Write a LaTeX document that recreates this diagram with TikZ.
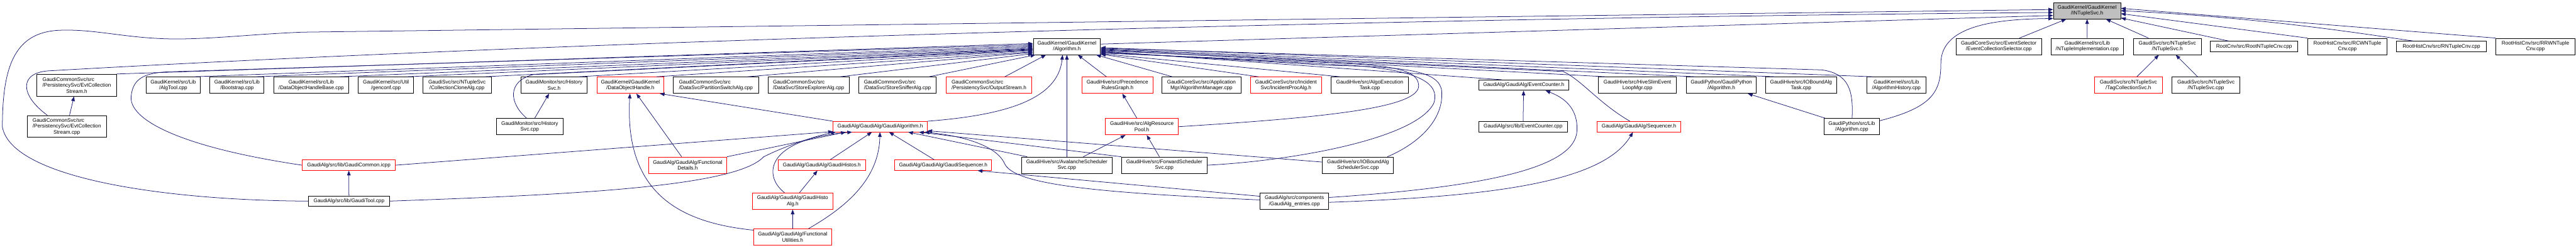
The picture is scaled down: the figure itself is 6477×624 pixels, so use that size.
\documentclass[tikz,border=0pt]{standalone}
\usepackage{fontspec}
\setmainfont{Liberation Sans}
\usepackage{tikz}
\usetikzlibrary{arrows.meta}
\definecolor{cEdge}{HTML}{191970}
\definecolor{cTrunc}{HTML}{FF0000}
\definecolor{cFocus}{HTML}{BFBFBF}
\definecolor{cInk}{HTML}{000000}
\newcommand{\fileFont}{\fontsize{13}{15}\selectfont}
\newcommand{\padl}[2]{\rlap{#1}\phantom{#2}}
\tikzset{
  file/.style  = {draw=cInk, fill=white, align=center, line width=1.4pt,
                  inner xsep=6pt, inner ysep=1pt, font=\fileFont},
  src1/.style  = {file, minimum height=26pt},
  src2/.style  = {file, minimum height=41pt},
  src3/.style  = {file, minimum height=55pt},
  trunc/.style = {draw=cTrunc},
  focus/.style = {fill=cFocus},
  incl/.style  = {-{Triangle[length=12pt,width=9pt]}, draw=cEdge, line width=1.2pt},
}

\begin{document}
\begin{tikzpicture}[x=1pt, y=-1pt]
  \useasboundingbox[fill=white] (0,0) rectangle (6477,624);
  % the header itself
  \node[src2, focus, minimum width=169pt] (nt) at (5247.5,27)
    {GaudiKernel/GaudiKernel\\/INTupleSvc.h};
  % second row
  \node[src2, minimum width=169pt] (alg) at (2682.5,117)
    {GaudiKernel/GaudiKernel\\/Algorithm.h};
  \node[src2, minimum width=215pt] (ecsel) at (5025.5,117)
    {GaudiCoreSvc/src/EventSelector\\/EventCollectionSelector.cpp};
  \node[src2, minimum width=182pt] (ntimpl) at (5248,117)
    {GaudiKernel/src/Lib\\/NTupleImplementation.cpp};
  \node[src2, minimum width=171pt] (ntsvch) at (5449.5,117)
    {GaudiSvc/src/NTupleSvc\\/NTupleSvc.h};
  \node[src1, minimum width=219pt] (rootnt) at (5667.5,117)
    {RootCnv/src/RootNTupleCnv.cpp};
  \node[src2, minimum width=200pt] (rcwn) at (5902,117)
    {RootHistCnv/src/RCWNTuple\\Cnv.cpp};
  \node[src1, minimum width=227pt] (rnt) at (6138.5,117)
    {RootHistCnv/src/RNTupleCnv.cpp};
  \node[src2, minimum width=200pt] (rrwn) at (6375,117)
    {RootHistCnv/src/RRWNTuple\\Cnv.cpp};
  % third row
  \node[src3, minimum width=200pt] (ecsh) at (193,214.5)
    {\padl{GaudiCommonSvc/src}{/PersistencySvc/EvtCollection}\\/PersistencySvc/EvtCollection\\Stream.h};
  \node[src2, minimum width=137pt] (algtool) at (435.5,214.5)
    {GaudiKernel/src/Lib\\/AlgTool.cpp};
  \node[src2, minimum width=136pt] (boot) at (596,214.5)
    {GaudiKernel/src/Lib\\/Bootstrap.cpp};
  \node[src2, minimum width=189pt] (dohbase) at (782.5,214.5)
    {GaudiKernel/src/Lib\\/DataObjectHandleBase.cpp};
  \node[src2, minimum width=139pt] (genconf) at (970.5,214.5)
    {GaudiKernel/src/Util\\/genconf.cpp};
  \node[src2, minimum width=172pt] (cclone) at (1149,214.5)
    {GaudiSvc/src/NTupleSvc\\/CollectionCloneAlg.cpp};
  \node[src2, minimum width=166pt] (histh) at (1393,214.5)
    {GaudiMonitor/src/History\\Svc.h};
  \node[src2, trunc, minimum width=168pt] (doh) at (1585,214.5)
    {GaudiKernel/GaudiKernel\\/DataObjectHandle.h};
  \node[src2, minimum width=214pt] (pswitch) at (1800,214.5)
    {\padl{GaudiCommonSvc/src}{/DataSvc/PartitionSwitchAlg.cpp}\\/DataSvc/PartitionSwitchAlg.cpp};
  \node[src2, minimum width=204pt] (sexpl) at (2033,214.5)
    {\padl{GaudiCommonSvc/src}{/DataSvc/StoreExplorerAlg.cpp}\\/DataSvc/StoreExplorerAlg.cpp};
  \node[src2, minimum width=195pt] (ssniff) at (2256.5,214.5)
    {\padl{GaudiCommonSvc/src}{/DataSvc/StoreSnifferAlg.cpp}\\/DataSvc/StoreSnifferAlg.cpp};
  \node[src2, trunc, minimum width=215pt] (ostream) at (2486.5,214.5)
    {\padl{GaudiCommonSvc/src}{/PersistencySvc/OutputStream.h}\\/PersistencySvc/OutputStream.h};
  \node[src2, trunc, minimum width=179pt] (prg) at (2809.5,214.5)
    {GaudiHive/src/Precedence\\RulesGraph.h};
  \node[src2, minimum width=198pt] (algmgr) at (3021,214.5)
    {GaudiCoreSvc/src/Application\\Mgr/AlgorithmManager.cpp};
  \node[src2, trunc, minimum width=179pt] (incproc) at (3233.5,214.5)
    {GaudiCoreSvc/src/Incident\\Svc/IncidentProcAlg.h};
  \node[src2, minimum width=194pt] (aet) at (3444,214.5)
    {GaudiHive/src/AlgoExecution\\Task.cpp};
  \node[src1, minimum width=226pt] (ecnth) at (3831,214.5)
    {GaudiAlg/GaudiAlg/EventCounter.h};
  \node[src2, minimum width=196pt] (hslim) at (4117,214.5)
    {GaudiHive/src/HiveSlimEvent\\LoopMgr.cpp};
  \node[src2, minimum width=176pt] (gpyalgh) at (4328,214.5)
    {GaudiPython/GaudiPython\\/Algorithm.h};
  \node[src2, minimum width=179pt] (iobtask) at (4528.5,214.5)
    {GaudiHive/src/IOBoundAlg\\Task.cpp};
  \node[src2, minimum width=148pt] (alghist) at (4768,214.5)
    {GaudiKernel/src/Lib\\/AlgorithmHistory.cpp};
  \node[src2, trunc, minimum width=171pt] (tagcoll) at (5351.5,214.5)
    {GaudiSvc/src/NTupleSvc\\/TagCollectionSvc.h};
  \node[src2, minimum width=171pt] (ntsvccpp) at (5546.5,214.5)
    {GaudiSvc/src/NTupleSvc\\/NTupleSvc.cpp};
  % fourth row
  \node[src3, minimum width=200pt] (ecscpp) at (168,318.5)
    {\padl{GaudiCommonSvc/src}{/PersistencySvc/EvtCollection}\\/PersistencySvc/EvtCollection\\Stream.cpp};
  \node[src2, minimum width=168pt] (histcpp) at (1332,319)
    {GaudiMonitor/src/History\\Svc.cpp};
  \node[src1, trunc, minimum width=236pt] (galg) at (2213,319)
    {GaudiAlg/GaudiAlg/GaudiAlgorithm.h};
  \node[src2, trunc, minimum width=184pt] (arp) at (2871,319)
    {GaudiHive/src/AlgResource\\Pool.h};
  \node[src1, minimum width=223pt] (ecntcpp) at (3829.5,319)
    {GaudiAlg/src/lib/EventCounter.cpp};
  \node[src1, trunc, minimum width=210pt] (seqh) at (4121,319)
    {GaudiAlg/GaudiAlg/Sequencer.h};
  \node[src2, minimum width=140pt] (gpyalgcpp) at (4656,319)
    {GaudiPython/src/Lib\\/Algorithm.cpp};
  % fifth row
  \node[src1, trunc, minimum width=234pt] (gcommon) at (877,416)
    {GaudiAlg/src/lib/GaudiCommon.icpp};
  \node[src2, trunc, minimum width=196pt] (fdet) at (1729,416)
    {GaudiAlg/GaudiAlg/Functional\\Details.h};
  \node[src1, trunc, minimum width=219pt] (ghistos) at (2066.5,416)
    {GaudiAlg/GaudiAlg/GaudiHistos.h};
  \node[src1, trunc, minimum width=243pt] (gseq) at (2371.5,416)
    {GaudiAlg/GaudiAlg/GaudiSequencer.h};
  \node[src2, minimum width=229pt] (avsched) at (2682.5,416)
    {GaudiHive/src/AvalancheScheduler\\Svc.cpp};
  \node[src2, minimum width=215pt] (fwsched) at (2927.5,416)
    {GaudiHive/src/ForwardScheduler\\Svc.cpp};
  \node[src2, minimum width=179pt] (iobsched) at (3414.5,416)
    {GaudiHive/src/IOBoundAlg\\SchedulerSvc.cpp};
  % sixth and seventh rows
  \node[src1, minimum width=203pt] (gtool) at (877.5,506.5)
    {GaudiAlg/src/lib/GaudiTool.cpp};
  \node[src2, trunc, minimum width=202pt] (ghistoalg) at (1993,506.5)
    {GaudiAlg/GaudiAlg/GaudiHisto\\Alg.h};
  \node[src2, minimum width=173pt] (entries) at (3254.5,506.5)
    {GaudiAlg/src/components\\/GaudiAlg\_entries.cpp};
  \node[src2, trunc, minimum width=196pt] (futil) at (1993,597)
    {GaudiAlg/GaudiAlg/Functional\\Utilities.h};

  % into INTupleSvc.h
  \draw[incl] (gtool.west) .. controls (420,505) and (30,450) .. (6,320)
    .. controls (6,160) and (40,76) .. (160,76)
    .. controls (250,74) and (330,100) .. (460,98)
    .. controls (560,96) and (640,86) .. (760,81) -- (nt.178);
  \draw[incl] (ecscpp.150) .. controls (50,240) and (45,180) .. (130,178)
    .. controls (1500,100) and (3500,45) .. (nt.183);
  \draw[incl] (alg.4) -- (nt.188);
  \draw[incl] (gpyalgcpp.12) .. controls (4860,270) and (4880,230) .. (4880,160)
    .. controls (4880,70) and (5000,48) .. (nt.193);
  \draw[incl] (ecsel) -- (nt);
  \draw[incl] (ntimpl) -- (nt);
  \draw[incl] (ntsvch) -- (nt);
  \draw[incl] (rootnt) -- (nt);
  \draw[incl] (rcwn.north west) -- (nt.-5);
  \draw[incl] (rnt.169) .. controls (5960,88) and (5700,45) .. (nt.0);
  \draw[incl] (rrwn.north west) -- (nt.4);
  \draw[incl] (tagcoll) -- (ntsvch);
  \draw[incl] (ntsvccpp) -- (ntsvch);

  % into Algorithm.h, from the left
  \draw[incl] (ecsh.north east) -- (alg.175);
  \draw[incl] (gcommon.west) .. controls (450,370) and (320,300) .. (330,240)
    .. controls (335,200) and (360,184) .. (420,181) -- (alg.177);
  \draw[incl] (algtool.22) -- (alg.179);
  \draw[incl] (boot.24) -- (alg.181);
  \draw[incl] (dohbase.17) -- (alg.183);
  \draw[incl] (genconf.22) -- (alg.184);
  \draw[incl] (cclone.17) -- (alg.185);
  \draw[incl] (histcpp.110) .. controls (1280,260) and (1275,205) .. (1340,188) -- (alg.186);
  \draw[incl] (histh.19) -- (alg.187);
  \draw[incl] (doh.18) -- (alg.189);
  \draw[incl] (pswitch.15) -- (alg.190);
  \draw[incl] (sexpl.15) -- (alg.192);
  \draw[incl] (ssniff.15) -- (alg.195);
  \draw[incl] (ostream.28) -- (alg.202);
  \draw[incl] (galg.north east) .. controls (2530,290) and (2660,250) .. (alg.243);
  \draw[incl] (avsched) -- (alg);
  \draw[incl] (prg) -- (alg);
  \draw[incl] (algmgr) -- (alg);
  % into Algorithm.h, from the right
  \draw[incl] (incproc.163) -- (alg.-13);
  \draw[incl] (aet.164) -- (alg.-12);
  \draw[incl] (ecnth.166) -- (alg.-8);
  \draw[incl] (hslim.165) -- (alg.-6);
  \draw[incl] (gpyalgh.162) -- (alg.-5);
  \draw[incl] (iobtask.162) -- (alg.-4);
  \draw[incl] (alghist.160) -- (alg.-2);
  \draw[incl] (gpyalgcpp.88) .. controls (4660,230) and (4650,185) .. (4580,176) -- (alg.-3);
  \draw[incl] (seqh.149) .. controls (4020,260) and (3975,200) .. (3930,180) -- (alg.-7);
  \draw[incl] (arp.east) .. controls (3350,295) and (3570,270) .. (3567,215)
    .. controls (3565,175) and (3500,165) .. (3350,158) -- (alg.-11);
  \draw[incl] (fwsched.east) .. controls (3250,405) and (3560,350) .. (3605,260)
    .. controls (3625,200) and (3540,170) .. (3350,162) -- (alg.-10);
  \draw[incl] (iobsched.16) .. controls (3570,360) and (3630,300) .. (3625,230)
    .. controls (3620,180) and (3540,168) .. (3350,165) -- (alg.-9);

  % GaudiAlgorithm.h and its family
  \draw[incl] (galg.north west) -- (doh.-16);
  \draw[incl] (fdet) -- (doh);
  \draw[incl] (futil.170) .. controls (1700,560) and (1570,480) .. (doh.-93);
  \draw[incl] (fdet.north east) -- (galg.189);
  \draw[incl] (futil.28) .. controls (2130,520) and (2210,450) .. (galg.-92);
  \draw[incl] (ghistoalg.134) .. controls (1915,440) and (1930,350) .. (galg.191);
  \draw[incl] (ghistoalg) -- (ghistos);
  \draw[incl] (futil) -- (ghistoalg);
  \draw[incl] (ghistos) -- (galg);
  \draw[incl] (gcommon.east) -- (galg.186);
  \draw[incl] (gtool.east) .. controls (1450,490) and (1850,470) .. (1920,395)
    .. controls (1990,360) and (2070,338) .. (galg.187);
  \draw[incl] (gtool) -- (gcommon);
  \draw[incl] (gseq) -- (galg);
  \draw[incl] (avsched.168) -- (galg.-11);
  \draw[incl] (fwsched.north west) -- (galg.-8);
  \draw[incl] (iobsched.175) -- (galg.-5);
  \draw[incl] (entries.178) .. controls (2750,485) and (2545,465) .. (2525,410)
    .. controls (2500,360) and (2400,340) .. (galg.-7);
  \draw[incl] (entries.172) -- (gseq.-9);
  \draw[incl] (entries.6) .. controls (3750,470) and (3960,420) .. (3965,330)
    .. controls (3968,270) and (3930,245) .. (ecnth.-14);
  \draw[incl] (entries.-2) .. controls (3750,495) and (4030,460) .. (seqh.222);
  \draw[incl] (ecntcpp) -- (ecnth);
  \draw[incl] (avsched) -- (arp);
  \draw[incl] (fwsched) -- (arp);
  \draw[incl] (arp) -- (prg);
  \draw[incl] (gpyalgcpp) -- (gpyalgh);
  \draw[incl] (histcpp) -- (histh);
  \draw[incl] (ecscpp) -- (ecsh);
\end{tikzpicture}
\end{document}
